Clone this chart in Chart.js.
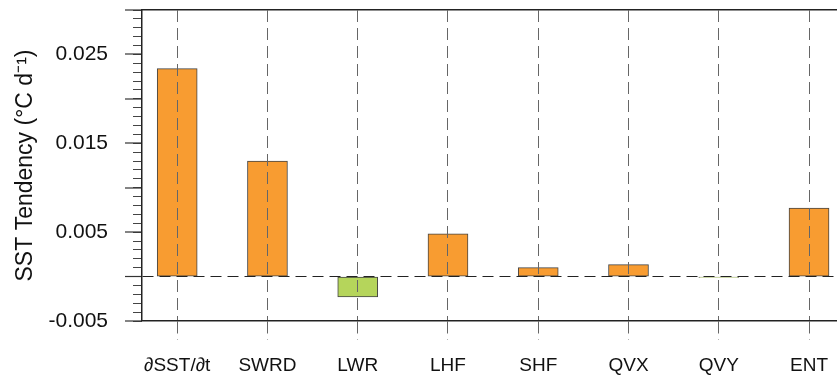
<!DOCTYPE html>
<html>
<head>
<meta charset="utf-8">
<script src="https://cdn.jsdelivr.net/npm/chart.js@4"></script>
<style>
	html, body { margin: 0; padding: 0; background: #fff; overflow: hidden; }
	#wrap { width: 837px; height: 379px; position: relative; }
</style>
</head>
<body>
<div id="wrap">
	<canvas id="myChart"></canvas>
</div>

<script>
	// terms of the SST budget
	var categories = ['∂SST/∂t', 'SWRD', 'LWR', 'LHF', 'SHF', 'QVX', 'QVY', 'ENT'];
	var tendency = [0.0234, 0.0130, -0.0023, 0.0048, 0.0010, 0.00134, -0.0001, 0.0077];
	// y ticks in units of 0.001
	var majorTicks = [-5, 0, 5, 10, 15, 20, 25, 30];
	var labelTicks = [-5, 5, 15, 25];
	var minorTicks = [];
	for (let i = -5; i <= 30; i++) minorTicks.push(i);

	var xMin = -0.39, xMax = 7.31;
	var yMin = -0.005, yMax = 0.03;
	var FONT = "'Liberation Sans', Arial, sans-serif";

	function noPad(s) {
		s.paddingTop = 0;
		s.paddingBottom = 0;
		s.paddingLeft = 0;
		s.paddingRight = 0;
	}

	function initChart() {
		var ctx = document.getElementById('myChart').getContext('2d');

		var chartData = {
			type: 'bar',
			data: {
				datasets: [{
					data: categories.map(function(c, i) { return {x: i, y: tendency[i]}; }),
					backgroundColor: tendency.map(function(v) { return v >= 0 ? '#F89C31' : '#B5D55B'; }),
					borderColor: '#444',
					borderWidth: 1,
					borderSkipped: false,
					barThickness: 40
				}]
			},
			options: {
				responsive: true,
				maintainAspectRatio: false,
				animation: false,
				layout: { padding: { top: 10, left: 0, right: 0, bottom: 0 } },
				plugins: {
					legend: { display: false },
					tooltip: { enabled: false }
				},
				scales: {
					x: {
						type: 'linear',
						position: 'bottom',
						offset: false,
						min: xMin,
						max: xMax,
						afterBuildTicks: function(s) {
							s.ticks = categories.map(function(c, i) { return {value: i}; });
						},
						afterFit: function(s) { s.height = 58; noPad(s); },
						grid: {
							offset: false,
							z: 1,
							color: '#666',
							lineWidth: 1,
							tickLength: 19,
							tickColor: '#666',
							tickWidth: 1,
							tickBorderDash: [12, 6]
						},
						border: { display: true, color: '#222', width: 1.5, dash: [12, 6], z: 1 },
						ticks: {
							autoSkip: false,
							maxRotation: 0,
							padding: 14,
							color: '#111',
							font: { family: FONT, size: 19 },
							callback: function(v) { return categories[v]; }
						}
					},
					xTop: {
						type: 'linear',
						position: 'top',
						offset: false,
						min: xMin,
						max: xMax,
						afterFit: function(s) { s.height = 0; noPad(s); },
						grid: { display: true, drawTicks: false, drawOnChartArea: false },
						ticks: { display: false },
						border: { display: true, color: '#222', width: 1.5 }
					},
					y: {
						type: 'linear',
						position: 'left',
						weight: 1,
						min: yMin,
						max: yMax,
						afterBuildTicks: function(s) {
							s.ticks = majorTicks.map(function(v) { return {value: v / 1000}; });
						},
						afterFit: function(s) { s.width = 142; noPad(s); },
						grid: {
							z: 1,
							color: function(c) { return c.tick && Math.abs(c.tick.value) < 1e-9 ? '#222' : 'rgba(0,0,0,0)'; },
							lineWidth: function(c) { return c.tick && Math.abs(c.tick.value) < 1e-9 ? 1 : 0; },
							tickLength: 17,
							tickColor: '#333',
							tickWidth: 1.2
						},
						border: { display: true, color: '#222', width: 1.5, dash: [11, 6], z: 1 },
						ticks: {
							padding: 17,
							color: '#111',
							font: { family: FONT, size: 21 },
							callback: function(v) {
								var k = Math.round(v * 1000);
								return labelTicks.indexOf(k) >= 0 ? v.toFixed(3) : '';
							}
						},
						title: {
							display: true,
							text: 'SST Tendency (°C d⁻¹)',
							color: '#111',
							font: { family: FONT, size: 23 },
							padding: { top: 12, bottom: 0 }
						}
					},
					yMinor: {
						type: 'linear',
						position: 'left',
						weight: 0,
						min: yMin,
						max: yMax,
						afterBuildTicks: function(s) {
							s.ticks = minorTicks.map(function(v) { return {value: v / 1000}; });
						},
						afterFit: function(s) { s.width = 0; noPad(s); },
						grid: {
							drawOnChartArea: false,
							tickLength: 9,
							tickColor: '#444',
							tickWidth: 1
						},
						border: { display: false },
						ticks: { display: false }
					}
				}
			}
		};

		var myChart = new Chart(ctx, chartData);
	}

	initChart();
</script>
</body>
</html>
